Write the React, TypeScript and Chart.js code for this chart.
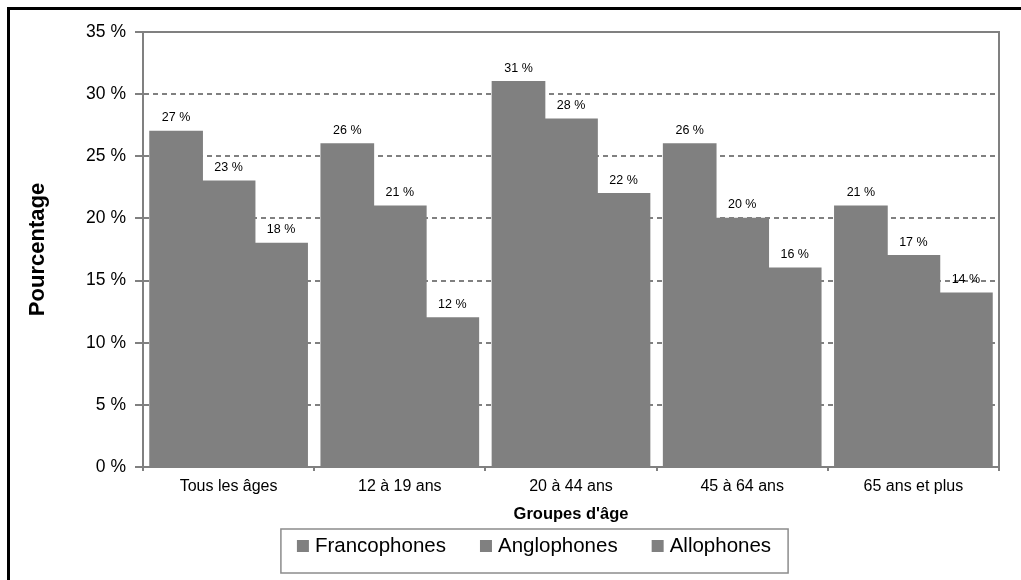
import React, { useEffect, useRef } from 'react';
import { Chart, registerables } from 'chart.js';

Chart.register(...registerables);

// ---- Data ----
const categories = ['Tous les âges', '12 à 19 ans', '20 à 44 ans', '45 à 64 ans', '65 ans et plus'];
const seriesNames = ['Francophones', 'Anglophones', 'Allophones'];
const francophones = [27, 26, 31, 26, 21];
const anglophones = [23, 21, 28, 20, 17];
const allophones = [18, 12, 22, 16, 14];
const yMin = 0;
const yMax = 35;
const yStep = 5;
const xTitle = "Groupes d'âge";
const yTitle = 'Pourcentage';
const unitSuffix = ' %';

const FONT = '"Liberation Sans", Arial, Helvetica, sans-serif';
const BAR = '#808080';
const AXIS = '#808080';

const framePlugin = {
  id: 'frame',
  beforeDraw(chart: any) {
    const { ctx, width, height } = chart;
    ctx.save();
    ctx.fillStyle = '#ffffff';
    ctx.fillRect(0, 0, width, height);
    ctx.fillStyle = '#000000';
    ctx.fillRect(7, 7, width - 7, 3);
    ctx.fillRect(7, 7, 3, height - 7);
    ctx.restore();
  },
  afterDatasetsDraw(chart: any) {
    const { ctx, chartArea } = chart;
    ctx.save();
    ctx.strokeStyle = AXIS;
    ctx.lineWidth = 2;
    ctx.strokeRect(chartArea.left, chartArea.top, chartArea.right - chartArea.left, chartArea.bottom - chartArea.top);
    ctx.restore();
  },
};

const labelPlugin = {
  id: 'barLabels',
  afterDatasetsDraw(chart: any) {
    const { ctx } = chart;
    ctx.save();
    ctx.font = `12.5px ${FONT}`;
    ctx.fillStyle = '#000000';
    ctx.textAlign = 'center';
    ctx.textBaseline = 'alphabetic';
    chart.data.datasets.forEach((ds: any, di: number) => {
      const meta = chart.getDatasetMeta(di);
      meta.data.forEach((bar: any, i: number) => {
        ctx.fillText(`${ds.data[i]}${unitSuffix}`, bar.x, bar.y - 10);
      });
    });
    ctx.restore();
  },
};

const legendPlugin = {
  id: 'boxLegend',
  afterDraw(chart: any) {
    const { ctx } = chart;
    ctx.save();
    ctx.font = `20.5px ${FONT}`;
    const items = chart.data.datasets.map((d: any) => ({
      label: d.label as string,
      color: d.backgroundColor as string,
      w: ctx.measureText(d.label).width,
    }));
    const marker = 12;
    const gapText = 6;
    const gapItem = 34;
    const contentW =
      items.reduce((s: number, it: any) => s + marker + gapText + it.w, 0) + gapItem * (items.length - 1);
    const cx = 534;
    let x = cx - contentW / 2;
    const boxTop = 529;
    const boxH = 44;
    ctx.strokeStyle = '#8c8c8c';
    ctx.lineWidth = 1.5;
    ctx.strokeRect(x - 16, boxTop, contentW + 33, boxH);
    ctx.textAlign = 'left';
    ctx.textBaseline = 'alphabetic';
    items.forEach((it: any) => {
      ctx.fillStyle = it.color;
      ctx.fillRect(x, 540, marker, marker);
      ctx.fillStyle = '#000000';
      ctx.fillText(it.label, x + marker + gapText, 552);
      x += marker + gapText + it.w + gapItem;
    });
    ctx.restore();
  },
};

export default function App() {
  const canvasRef = useRef<HTMLCanvasElement | null>(null);

  useEffect(() => {
    if (!canvasRef.current) return;
    const values = [francophones, anglophones, allophones];
    const chart = new Chart(canvasRef.current, {
      type: 'bar',
      data: {
        labels: categories,
        datasets: seriesNames.map((name, i) => ({
          label: name,
          data: values[i],
          backgroundColor: BAR,
          borderWidth: 0,
          inflateAmount: 0.6,
          categoryPercentage: 0.92,
          barPercentage: 1.0,
        })),
      },
      options: {
        responsive: false,
        animation: false,
        devicePixelRatio: 1,
        layout: { padding: { top: 32, right: 22, bottom: 56, left: 0 } },
        plugins: {
          legend: { display: false },
          tooltip: { enabled: false },
        },
        scales: {
          x: {
            grid: {
              display: true,
              drawOnChartArea: false,
              color: AXIS,
              lineWidth: 2,
              tickLength: 4,
              offset: true,
            },
            border: { display: true, color: AXIS, width: 2 },
            ticks: {
              color: '#000000',
              font: { family: FONT, size: 16 },
              padding: 6,
              maxRotation: 0,
            },
            title: {
              display: true,
              text: xTitle,
              color: '#000000',
              font: { family: FONT, size: 16.5, weight: 'bold' },
              padding: { top: 2, bottom: 0 },
            },
          },
          y: {
            min: yMin,
            max: yMax,
            afterFit: (scale: any) => {
              scale.width = 143;
            },
            grid: {
              color: AXIS,
              lineWidth: 2,
              tickLength: 8,
              tickBorderDash: [],
              borderDash: [5, 4],
            } as any,
            border: { display: true, color: AXIS, width: 2, dash: [5, 4] },
            ticks: {
              stepSize: yStep,
              color: '#000000',
              font: { family: FONT, size: 17.5 },
              padding: 9,
              callback: (v: any) => `${v}${unitSuffix}`,
            },
            title: {
              display: true,
              text: yTitle,
              color: '#000000',
              font: { family: FONT, size: 22, weight: 'bold' },
              padding: { top: 25, bottom: 0 },
            },
          },
        },
      },
      plugins: [framePlugin, labelPlugin, legendPlugin],
    });
    return () => chart.destroy();
  }, []);

  return (
    <div style={{ position: 'absolute', left: 0, top: 0, width: 1021, height: 580 }}>
      <canvas ref={canvasRef} width={1021} height={580} style={{ display: 'block', width: 1021, height: 580 }} />
    </div>
  );
}
